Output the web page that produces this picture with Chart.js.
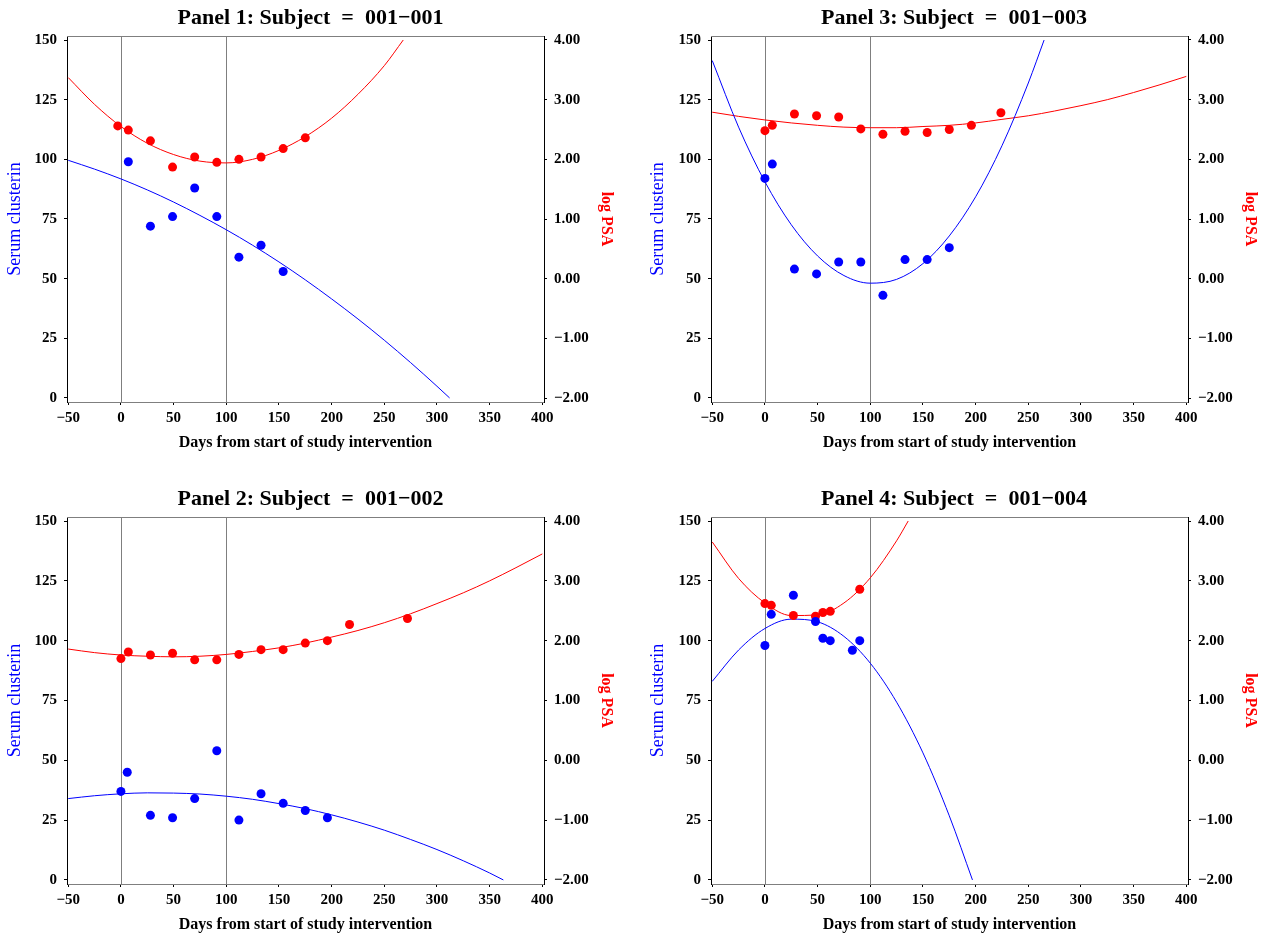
<!DOCTYPE html>
<html>
<head>
<meta charset="utf-8">
<script src="https://cdn.jsdelivr.net/npm/chart.js@4.4.1/dist/chart.umd.min.js"></script>
<style>
  body { margin: 0; background: #fff; }
  #wrap { position: relative; width: 1268px; height: 937px; }
  canvas { position: absolute; }
</style>
</head>
<body>
<div id="wrap">
  <canvas id="p1" width="621" height="460" style="left:0;top:0"></canvas>
  <canvas id="p3" width="628" height="460" style="left:640px;top:0"></canvas>
  <canvas id="p2" width="621" height="459" style="left:0;top:478px"></canvas>
  <canvas id="p4" width="628" height="459" style="left:640px;top:478px"></canvas>
</div>
<script>
// axis ticks
var xTicks = [-50, 0, 50, 100, 150, 200, 250, 300, 350, 400];
var clusterinTicks = [0, 25, 50, 75, 100, 125, 150];
var psaTicks = [-2, -1, 0, 1, 2, 3, 4];
var refDays = [0, 100];

// Panel 1: Subject 001-001
var p1ClusterinDays = [7, 28, 49, 70, 91, 112, 133, 154];
var p1Clusterin = [99, 72, 76, 88, 76, 59, 64, 53];
var p1PsaDays = [-3, 7, 28, 49, 70, 91, 112, 133, 154, 175];
var p1Psa = [2.56, 2.49, 2.31, 1.87, 2.04, 1.95, 2.00, 2.04, 2.18, 2.36];
var p1ClusterinFitDays = [-50, -25, 0, 25, 50, 75, 100, 125, 150, 175, 200, 225, 250, 275, 300, 312];
var p1ClusterinFit = [99.6, 95.9, 91.8, 87.2, 82.1, 76.5, 70.5, 64.0, 57.0, 49.5, 41.5, 33.1, 24.2, 14.8, 4.9, 0];
var p1PsaFitDays = [-50, -25, 0, 25, 50, 75, 100, 125, 150, 175, 200, 225, 250, 268];
var p1PsaFit = [3.37, 2.92, 2.55, 2.27, 2.08, 1.97, 1.94, 2.00, 2.15, 2.38, 2.69, 3.09, 3.57, 4.0];

// Panel 2: Subject 001-002
var p2ClusterinDays = [0, 6, 28, 49, 70, 91, 112, 133, 154, 175, 196];
var p2Clusterin = [37, 45, 27, 26, 34, 54, 25, 36, 32, 29, 26];
var p2PsaDays = [0, 7, 28, 49, 70, 91, 112, 133, 154, 175, 196, 217, 272];
var p2Psa = [1.70, 1.81, 1.76, 1.79, 1.68, 1.68, 1.77, 1.85, 1.85, 1.96, 2.00, 2.27, 2.37];
var p2ClusterinFitDays = [-50, -25, 0, 25, 50, 75, 100, 125, 150, 175, 200, 225, 250, 275, 300, 325, 350, 363];
var p2ClusterinFit = [34.0, 35.2, 36.0, 36.4, 36.3, 35.9, 35.0, 33.7, 31.9, 29.8, 27.2, 24.2, 20.8, 16.9, 12.7, 8.0, 2.9, 0];
var p2PsaFitDays = [-50, -25, 0, 25, 50, 75, 100, 125, 150, 175, 200, 225, 250, 275, 300, 325, 350, 375, 400];
var p2PsaFit = [1.86, 1.80, 1.76, 1.74, 1.73, 1.74, 1.77, 1.82, 1.88, 1.96, 2.06, 2.17, 2.30, 2.45, 2.62, 2.80, 3.00, 3.22, 3.45];

// Panel 3: Subject 001-003
var p3ClusterinDays = [0, 7, 28, 49, 70, 91, 112, 133, 154, 175];
var p3Clusterin = [92, 98, 54, 52, 57, 57, 43, 58, 58, 63];
var p3PsaDays = [0, 7, 28, 49, 70, 91, 112, 133, 154, 175, 196, 224];
var p3Psa = [2.48, 2.57, 2.76, 2.73, 2.71, 2.51, 2.42, 2.47, 2.45, 2.50, 2.57, 2.78];
var p3ClusterinFitDays = [-50, -25, 0, 25, 50, 75, 100, 125, 150, 175, 200, 225, 250, 265];
var p3ClusterinFit = [141.4, 113.5, 90.6, 72.6, 59.5, 51.3, 48.1, 49.7, 56.3, 67.9, 84.3, 105.7, 132.0, 150];
var p3PsaFitDays = [-50, -25, 0, 25, 50, 75, 100, 125, 150, 175, 200, 225, 250, 275, 300, 325, 350, 375, 400];
var p3PsaFit = [2.79, 2.72, 2.66, 2.61, 2.57, 2.54, 2.53, 2.53, 2.55, 2.57, 2.61, 2.67, 2.73, 2.81, 2.90, 3.00, 3.12, 3.25, 3.39];

// Panel 4: Subject 001-004
var p4ClusterinDays = [0, 6, 27, 48, 55, 62, 83, 90];
var p4Clusterin = [98, 111, 119, 108, 101, 100, 96, 100];
var p4PsaDays = [0, 6, 27, 48, 55, 62, 90];
var p4Psa = [2.62, 2.59, 2.42, 2.41, 2.47, 2.49, 2.86];
var p4ClusterinFitDays = [-50, -25, 0, 25, 50, 75, 100, 125, 150, 175, 197];
var p4ClusterinFit = [83.0, 96.1, 105.1, 109.0, 107.9, 101.8, 90.6, 74.3, 53.1, 26.8, 0];
var p4PsaFitDays = [-50, -25, 0, 25, 50, 75, 100, 125, 136];
var p4PsaFit = [3.65, 3.04, 2.63, 2.42, 2.43, 2.63, 3.05, 3.67, 4.0];

var FONT = '"Liberation Serif", "Times New Roman", serif';
var BLUE = '#0000ff';
var RED = '#ff0000';

function pts(xs, ys) {
    return xs.map(function (x, i) { return { x: x, y: ys[i] }; });
}
function minus(s) { return String(s).replace('-', '\u2212'); }

// gray reference lines at day 0 / 100 and the top frame line
var refLines = {
    id: 'refLines',
    beforeDatasetsDraw: function (chart) {
        var ctx = chart.ctx, a = chart.chartArea, x = chart.scales.x;
        ctx.save();
        ctx.strokeStyle = '#7f7f7f';
        ctx.lineWidth = 1;
        refDays.forEach(function (d) {
            var px = Math.round(x.getPixelForValue(d)) + 0.5;
            ctx.beginPath();
            ctx.moveTo(px, a.top);
            ctx.lineTo(px, a.bottom);
            ctx.stroke();
        });
        ctx.beginPath();
        ctx.moveTo(a.left, Math.round(a.top) + 0.5);
        ctx.lineTo(a.right, Math.round(a.top) + 0.5);
        ctx.stroke();
        ctx.restore();
    }
};

function makePanel(id, title, d, lay) {
    var ctx = document.getElementById(id).getContext('2d');
    return new Chart(ctx, {
        type: 'scatter',
        data: {
            datasets: [
                { label: 'clusterin', data: pts(d.cDays, d.c), yAxisID: 'y',
                  backgroundColor: BLUE, borderColor: BLUE, pointRadius: 4.5, borderWidth: 0 },
                { label: 'psa', data: pts(d.pDays, d.p), yAxisID: 'y1',
                  backgroundColor: RED, borderColor: RED, pointRadius: 4.5, borderWidth: 0 },
                { label: 'clusterin fit', data: pts(d.cfDays, d.cf), yAxisID: 'y', showLine: true,
                  borderColor: BLUE, borderWidth: 1, pointRadius: 0, cubicInterpolationMode: 'monotone' },
                { label: 'psa fit', data: pts(d.pfDays, d.pf), yAxisID: 'y1', showLine: true,
                  borderColor: RED, borderWidth: 1, pointRadius: 0, cubicInterpolationMode: 'monotone' }
            ]
        },
        options: {
            responsive: false,
            animation: false,
            layout: { padding: 0 },
            plugins: {
                legend: { display: false },
                tooltip: { enabled: false },
                title: {
                    display: true, text: title, color: '#000',
                    font: { family: FONT, size: 22, weight: 'bold' },
                    padding: { top: lay.titleTop, bottom: lay.titleBottom }
                }
            },
            scales: {
                x: {
                    type: 'linear', min: -51.2, max: 401.6,
                    afterBuildTicks: function (s) { s.ticks = xTicks.map(function (v) { return { value: v }; }); },
                    afterFit: function (s) { s.height = lay.xHeight; },
                    ticks: { color: '#000', font: { family: FONT, size: 15, weight: 'bold' }, padding: 4,
                             autoSkip: false, maxRotation: 0, callback: function (v) { return minus(v); } },
                    grid: { drawOnChartArea: false, tickLength: 3, color: '#000' },
                    border: { color: '#7f7f7f' },
                    title: { display: true, text: 'Days from start of study intervention', color: '#000',
                             font: { family: FONT, size: 16, weight: 'bold' },
                             padding: { top: 0, bottom: lay.xTitleBottom } }
                },
                y: {
                    position: 'left', min: -1.7, max: 151.7,
                    afterBuildTicks: function (s) { s.ticks = clusterinTicks.map(function (v) { return { value: v }; }); },
                    afterFit: function (s) { s.width = lay.yWidth; },
                    ticks: { color: '#000', font: { family: FONT, size: 15, weight: 'bold' }, padding: 7 },
                    grid: { drawOnChartArea: false, tickLength: 3, color: '#000' },
                    border: { color: '#000' },
                    title: { display: true, text: 'Serum clusterin', color: BLUE,
                             font: { family: FONT, size: 18 }, padding: { top: lay.yTitlePad, bottom: 0 } }
                },
                y1: {
                    position: 'right', min: -2.067, max: 4.067,
                    afterBuildTicks: function (s) { s.ticks = psaTicks.map(function (v) { return { value: v }; }); },
                    afterFit: function (s) { s.width = lay.y1Width; },
                    ticks: { color: '#000', font: { family: FONT, size: 15, weight: 'bold' }, padding: 7,
                             callback: function (v) { return minus(v.toFixed(2)); } },
                    grid: { drawOnChartArea: false, tickLength: 3, color: '#000' },
                    border: { color: '#000' },
                    title: { display: true, text: 'log PSA', color: RED,
                             font: { family: FONT, size: 16, weight: 'bold' }, padding: { top: lay.y1TitlePad, bottom: 0 } }
                }
            }
        },
        plugins: [refLines]
    });
}

var leftTop = { titleTop: 5, titleBottom: 4.6, xHeight: 58, xTitleBottom: 7.4, yWidth: 67, y1Width: 77, yTitlePad: 4, y1TitlePad: 5 };
var rightTop = { titleTop: 5, titleBottom: 4.6, xHeight: 58, xTitleBottom: 7.4, yWidth: 71, y1Width: 80, yTitlePad: 7, y1TitlePad: 8 };
var leftBottom = { titleTop: 8, titleBottom: 4.6, xHeight: 53, xTitleBottom: 2.4, yWidth: 67, y1Width: 77, yTitlePad: 4, y1TitlePad: 5 };
var rightBottom = { titleTop: 8, titleBottom: 4.6, xHeight: 53, xTitleBottom: 2.4, yWidth: 71, y1Width: 80, yTitlePad: 7, y1TitlePad: 8 };

makePanel('p1', 'Panel 1: Subject  =  001\u2212001',
    { cDays: p1ClusterinDays, c: p1Clusterin, pDays: p1PsaDays, p: p1Psa,
      cfDays: p1ClusterinFitDays, cf: p1ClusterinFit, pfDays: p1PsaFitDays, pf: p1PsaFit }, leftTop);
makePanel('p3', 'Panel 3: Subject  =  001\u2212003',
    { cDays: p3ClusterinDays, c: p3Clusterin, pDays: p3PsaDays, p: p3Psa,
      cfDays: p3ClusterinFitDays, cf: p3ClusterinFit, pfDays: p3PsaFitDays, pf: p3PsaFit }, rightTop);
makePanel('p2', 'Panel 2: Subject  =  001\u2212002',
    { cDays: p2ClusterinDays, c: p2Clusterin, pDays: p2PsaDays, p: p2Psa,
      cfDays: p2ClusterinFitDays, cf: p2ClusterinFit, pfDays: p2PsaFitDays, pf: p2PsaFit }, leftBottom);
makePanel('p4', 'Panel 4: Subject  =  001\u2212004',
    { cDays: p4ClusterinDays, c: p4Clusterin, pDays: p4PsaDays, p: p4Psa,
      cfDays: p4ClusterinFitDays, cf: p4ClusterinFit, pfDays: p4PsaFitDays, pf: p4PsaFit }, rightBottom);
</script>
</body>
</html>
